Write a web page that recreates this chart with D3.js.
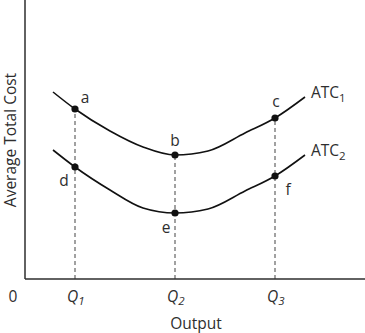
<!DOCTYPE html>
<html>
<head>
<meta charset="utf-8">
<script src="https://cdn.jsdelivr.net/npm/d3@7"></script>
<style>
  html, body { margin: 0; padding: 0; background: #fff; }
  svg { display: block; font-family: "Open Sans", "Liberation Sans", Arial, sans-serif; }
</style>
</head>
<body>
<svg id="chart" width="365" height="333"></svg>
<script>
// Output levels along the curves (arbitrary units)
const outputPts = [0.56, 1, 1.7, 2.36, 3, 3.66, 4.4, 5, 5.6];
// Average total cost for the two cost curves
const atc1 = [18.7, 17.0, 14.8, 13.2, 12.4, 12.8, 14.6, 16.1, 18.2];
const atc2 = [12.9, 11.2, 8.9, 7.1, 6.6, 7.0, 8.8, 10.3, 12.4];

// Marked output levels Q1, Q2, Q3
const qValues = [1, 3, 5];
const qNames = ["1", "2", "3"];

// Labelled points on each curve
const atc1Points = [
  { name: "a", q: 1, c: 17.0 },
  { name: "b", q: 3, c: 12.4 },
  { name: "c", q: 5, c: 16.1 }
];
const atc2Points = [
  { name: "d", q: 1, c: 11.2 },
  { name: "e", q: 3, c: 6.6 },
  { name: "f", q: 5, c: 10.3 }
];

const svg = d3.select("#chart");
const x = d3.scaleLinear().domain([0, 6.8]).range([25, 365]);
const y = d3.scaleLinear().domain([0, 27.9]).range([279, 0]);

const ink = "#2e2e2e";
const fs = 15.5;

// Dashed guides from the axis up to the top curve
svg.append("g").selectAll("line").data(atc1Points).join("line")
  .attr("x1", d => x(d.q)).attr("x2", d => x(d.q))
  .attr("y1", y(0)).attr("y2", d => y(d.c))
  .attr("stroke", "#555").attr("stroke-width", 1.1)
  .attr("stroke-dasharray", "4,3");

// Axes
svg.append("line").attr("x1", x(0)).attr("x2", x(0)).attr("y1", y(0)).attr("y2", y(27.9))
  .attr("stroke", ink).attr("stroke-width", 1.5);
svg.append("line").attr("x1", x(0)).attr("x2", x(6.8)).attr("y1", y(0)).attr("y2", y(0))
  .attr("stroke", ink).attr("stroke-width", 1.5);

// Cost curves
const line = d3.line().x((d, i) => x(outputPts[i])).y(d => y(d)).curve(d3.curveMonotoneX);
[atc1, atc2].forEach(series => {
  svg.append("path").datum(series).attr("d", line)
    .attr("fill", "none").attr("stroke", "#111").attr("stroke-width", 1.6);
});

// Points
svg.append("g").selectAll("circle").data(atc1Points.concat(atc2Points)).join("circle")
  .attr("cx", d => x(d.q)).attr("cy", d => y(d.c)).attr("r", 3.6).attr("fill", "#111");

// Point labels
const labelOffsets = {
  a: [10, -6], b: [0, -9], c: [1, -11],
  d: [-11, 19], e: [-9, 20], f: [13, 19]
};
svg.append("g").selectAll("text").data(atc1Points.concat(atc2Points)).join("text")
  .attr("x", d => x(d.q) + labelOffsets[d.name][0])
  .attr("y", d => y(d.c) + labelOffsets[d.name][1])
  .attr("text-anchor", "middle")
  .attr("font-size", fs).attr("fill", ink)
  .text(d => d.name);

// Curve names
const curveNames = [
  { series: atc1, sub: "1" },
  { series: atc2, sub: "2" }
];
curveNames.forEach(cn => {
  const last = cn.series[cn.series.length - 1];
  const t = svg.append("text")
    .attr("x", x(outputPts[outputPts.length - 1]) + 6)
    .attr("y", y(last) + 1)
    .attr("font-size", fs).attr("fill", ink);
  t.append("tspan").text("ATC");
  t.append("tspan").attr("font-size", 11.5).attr("dy", 4).text(cn.sub);
});

// Origin and Q tick labels
svg.append("text").attr("x", 13).attr("y", 302).attr("text-anchor", "middle")
  .attr("font-size", fs).attr("fill", ink).text("0");
qValues.forEach((q, i) => {
  const t = svg.append("text").attr("x", x(q) - 8).attr("y", 302)
    .attr("font-size", fs).attr("font-style", "italic").attr("fill", ink);
  t.append("tspan").text("Q");
  t.append("tspan").attr("font-size", 11.5).attr("dy", 3).text(qNames[i]);
});

// Axis titles
svg.append("text").attr("x", 196).attr("y", 329).attr("text-anchor", "middle")
  .attr("font-size", fs).attr("fill", ink).text("Output");
svg.append("text").attr("transform", "translate(16,140) rotate(-90)")
  .attr("text-anchor", "middle").attr("font-size", 15.5).attr("fill", ink)
  .text("Average Total Cost");
</script>
</body>
</html>
